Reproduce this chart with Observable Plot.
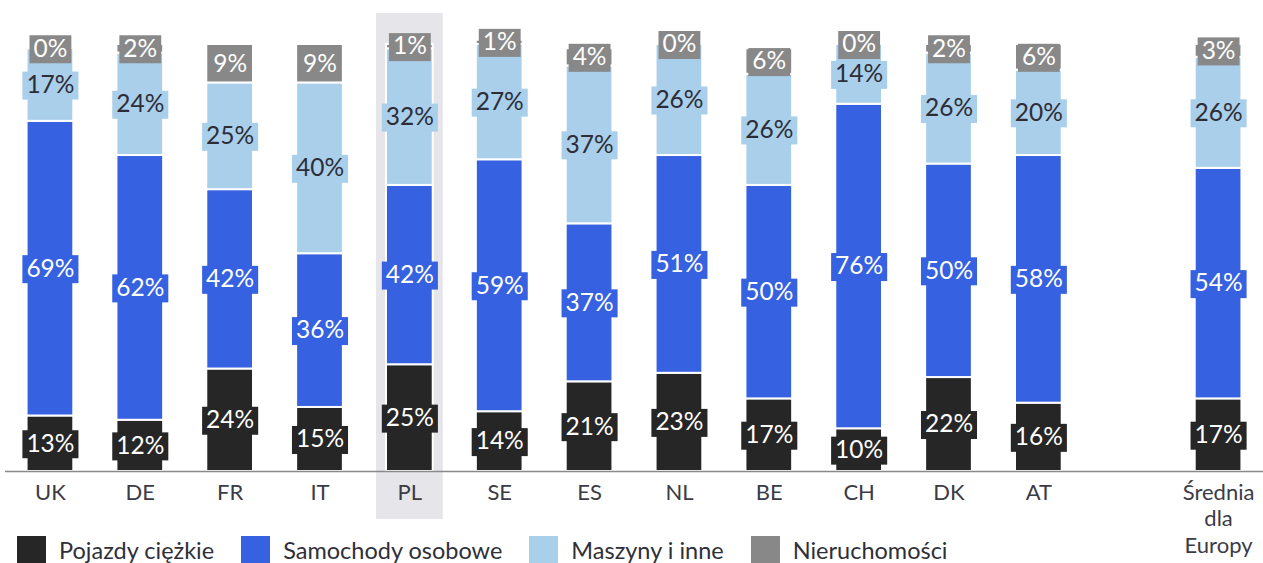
<!DOCTYPE html>
<html><head><meta charset="utf-8">
<script src="https://cdn.jsdelivr.net/npm/d3@7"></script>
<script src="https://cdn.jsdelivr.net/npm/@observablehq/plot@0.6"></script>
<style>
body{margin:0;background:#fff;font-family:Lato,sans-serif;}
#wrap{position:relative;width:1263px;height:563px;overflow:hidden;}
#legend{position:absolute;left:17px;top:536px;display:flex;align-items:center;font-family:Lato,sans-serif;font-size:23.5px;color:#2f2f38;white-space:nowrap;line-height:27px;}
#legend .item{display:flex;align-items:center;margin-right:27px;}
#legend .sw{width:29px;height:29px;margin-right:13px;}
</style></head><body><div id="wrap"></div>
<script>
const countries = ["UK","DE","FR","IT","PL","SE","ES","NL","BE","CH","DK","AT"];
const blank = " ";
const avgLabel = "Średnia dla Europy";
const categories = [...countries, blank, avgLabel];
const barCats = [...countries, avgLabel];
const series = ["Pojazdy ciężkie","Samochody osobowe","Maszyny i inne","Nieruchomości"];
const heavy      = [13,12,24,15,25,14,21,23,17,10,22,16,17];
const cars       = [69,62,42,36,42,59,37,51,50,76,50,58,54];
const machines   = [17,24,25,40,32,27,37,26,26,14,26,20,26];
const realEstate = [ 0, 2, 9, 9, 1, 1, 4, 0, 6, 0, 2, 6, 3];
const colors = ["#262626","#3661e0","#a9cfea","#888888"];
const textColors = ["#ffffff","#ffffff","#2d2d38","#ffffff"];
const highlight = "PL";

const seriesValues = [heavy, cars, machines, realEstate];
const rowsBySeries = series.map(() => []);
barCats.forEach((cat, i) => {
  let base = 0;
  seriesValues.forEach((vals, j) => {
    const v = vals[i];
    rowsBySeries[j].push({cat, series: series[j], value: v, y1: base, y2: base + v, mid: base + v / 2});
    base += v;
  });
});

const marks = [
  Plot.barY([highlight], {x: d => d, y1: 0, y2: 100, fill: "#e5e5ea",
    insetLeft: -10, insetRight: -10, insetTop: -31, insetBottom: -48}),
  ...rowsBySeries.map((rows, j) => Plot.barY(rows, {x: "cat", y1: "y1", y2: "y2",
    fill: colors[j], stroke: "white", strokeWidth: 2})),
  Plot.ruleY([0], {stroke: "#8a8a8a", strokeWidth: 1.5}),
  ...rowsBySeries.map((rows, j) => Plot.text(rows, {x: "cat", y: "mid",
    text: d => d.value + "%", fill: textColors[j], fontSize: 24.5})),
  Plot.axisX({ticks: [...countries, avgLabel], tickSize: 0, tickPadding: 9, fontSize: 22,
    lineHeight: 1.22, label: null,
    tickFormat: d => d === avgLabel ? "Średnia\ndla\nEuropy" : d})
];

const chart = Plot.plot({
  width: 1263, height: 563,
  marginLeft: 5, marginRight: 0, marginTop: 44, marginBottom: 92,
  style: {fontFamily: "Lato, sans-serif", color: "#3b3b45", background: "white"},
  x: {domain: categories, paddingInner: 0.48, paddingOuter: 0.24, round: false, label: null},
  y: {domain: [0, 100], axis: null},
  marks
});
const wrap = document.getElementById("wrap");
wrap.append(chart);

// background boxes behind segment labels
const groups = chart.querySelectorAll('g[aria-label="text"]');
groups.forEach((g, j) => {
  g.querySelectorAll("text").forEach(t => {
    const b = t.getBBox();
    const r = document.createElementNS("http://www.w3.org/2000/svg", "rect");
    r.setAttribute("x", b.x - 4);
    r.setAttribute("width", b.width + 8);
    r.setAttribute("y", -13.5);
    r.setAttribute("height", 28);
    r.setAttribute("fill", colors[j]);
    r.setAttribute("stroke", "none");
    const tr = t.getAttribute("transform");
    if (tr) r.setAttribute("transform", tr);
    g.insertBefore(r, t);
  });
});

// legend
const legend = document.createElement("div");
legend.id = "legend";
series.forEach((s, j) => {
  const item = document.createElement("div");
  item.className = "item";
  const sw = document.createElement("div");
  sw.className = "sw";
  sw.style.background = colors[j];
  const lb = document.createElement("span");
  lb.textContent = s;
  item.append(sw, lb);
  legend.append(item);
});
wrap.append(legend);
</script></body></html>
